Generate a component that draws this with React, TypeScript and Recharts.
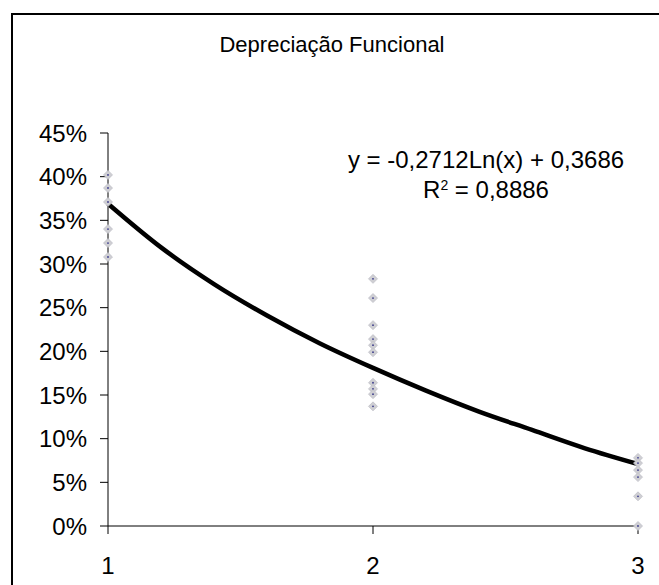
import { ComposedChart, Line, Scatter, XAxis, YAxis } from 'recharts'

// observed values per group (x = 1, 2, 3)
const group1 = [0.402, 0.387, 0.371, 0.34, 0.324, 0.308]
const group2 = [0.283, 0.261, 0.23, 0.214, 0.207, 0.199, 0.164, 0.157, 0.151, 0.137]
const group3 = [0.078, 0.072, 0.064, 0.056, 0.034, 0.0]

// trend curve
const curveX = [1, 1.2, 1.4, 1.6, 1.8, 2, 2.2, 2.4, 2.6, 2.8, 3]
const curveY = [0.369, 0.319, 0.277, 0.241, 0.209, 0.181, 0.155, 0.131, 0.11, 0.089, 0.071]

const xTicks = [1, 2, 3]
const yTicks = [0, 0.05, 0.1, 0.15, 0.2, 0.25, 0.3, 0.35, 0.4, 0.45]

const points = [
  ...group1.map((y) => ({ x: 1, y })),
  ...group2.map((y) => ({ x: 2, y })),
  ...group3.map((y) => ({ x: 3, y })),
]
const curve = curveX.map((x, i) => ({ x, y: curveY[i] }))

const font = '"Liberation Sans", Arial, sans-serif'

function Marker(props: any) {
  const { cx, cy } = props
  if (cx == null || cy == null) return null
  const r = 4.5
  return (
    <g>
      <path
        d={`M${cx},${cy - r}L${cx + r},${cy}L${cx},${cy + r}L${cx - r},${cy}Z`}
        fill="#cfcfd3"
        stroke="#c0c0c8"
        strokeWidth={0.8}
      />
      <circle cx={cx} cy={cy} r={0.9} fill="#3a3a8a" />
    </g>
  )
}

export default function App() {
  // fixed to the viewport so the frame can run off the right/bottom edge without scrollbars
  return (
    <div
      style={{
        position: 'fixed',
        left: 0,
        top: 0,
        width: 659,
        height: 585,
        overflow: 'hidden',
        fontFamily: font,
        background: '#fff',
      }}
    >
      {/* outer chart frame: only its top and left edges are inside the picture */}
      <div style={{ position: 'absolute', left: 11, top: 13, width: 660, height: 2, background: '#000' }} />
      <div style={{ position: 'absolute', left: 11, top: 13, width: 2, height: 580, background: '#000' }} />
      <div style={{ position: 'absolute', left: 0, top: 0 }}>
        <ComposedChart width={659} height={585} margin={{ top: 133, right: 21, left: 8, bottom: 19 }}>
          <XAxis
            dataKey="x"
            type="number"
            domain={[1, 3]}
            ticks={xTicks}
            interval={0}
            height={40}
            stroke="#000"
            tickSize={8}
            tickMargin={23}
            tick={{ fill: '#000', fontSize: 24, fontFamily: font }}
            allowDecimals={false}
          />
          <YAxis
            dataKey="y"
            type="number"
            domain={[0, 0.45]}
            ticks={yTicks}
            interval={0}
            width={100}
            stroke="#000"
            tickSize={8}
            tickMargin={13}
            tick={{ fill: '#000', fontSize: 24, fontFamily: font }}
            tickFormatter={(v: number) => `${Math.round(v * 100)}%`}
          />
          <Line
            data={curve}
            dataKey="y"
            type="monotone"
            stroke="#000"
            strokeWidth={4.5}
            dot={false}
            activeDot={false}
            isAnimationActive={false}
          />
          <Scatter data={points} dataKey="y" shape={<Marker />} isAnimationActive={false} />
        </ComposedChart>
      </div>
      <div
        style={{
          position: 'absolute',
          left: 0,
          top: 34,
          width: 664,
          textAlign: 'center',
          fontSize: 22,
          lineHeight: 1,
          color: '#000',
        }}
      >
        Depreciação Funcional
      </div>
      <div
        style={{
          position: 'absolute',
          left: 286,
          top: 148,
          width: 400,
          textAlign: 'center',
          fontSize: 24,
          lineHeight: 1,
          color: '#000',
        }}
      >
        y = -0,2712Ln(x) + 0,3686
      </div>
      <div
        style={{
          position: 'absolute',
          left: 286,
          top: 178,
          width: 400,
          textAlign: 'center',
          fontSize: 24,
          lineHeight: 1,
          color: '#000',
        }}
      >
        R<sup style={{ fontSize: 14, verticalAlign: 'top', lineHeight: 1 }}>2</sup> = 0,8886
      </div>
    </div>
  )
}
